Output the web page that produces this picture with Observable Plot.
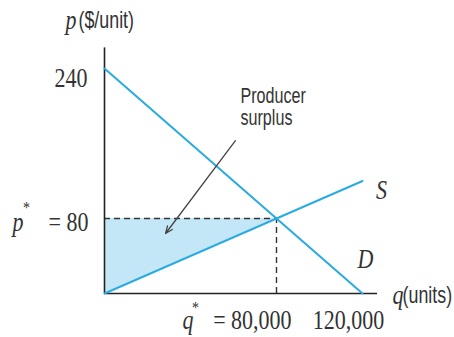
<!DOCTYPE html>
<html>
<head>
<meta charset="utf-8">
<script src="https://cdn.jsdelivr.net/npm/d3@7"></script>
<script src="https://cdn.jsdelivr.net/npm/@observablehq/plot@0.6"></script>
<style>
  html, body { margin: 0; padding: 0; background: #fff; }
</style>
</head>
<body>
<div id="chart"></div>
<script>
// ---- data ----
const quantities = [0, 120000];              // q range of the curves
const supplyPrices = [0, 120];               // S: p = q/1000
const demandPrices = [240, 0];               // D: p = 240 - q/500
const eqQ = 80000, eqP = 80;                 // equilibrium
const surplusQ = [0, 80000];                 // producer-surplus region
const surplusLow = [0, 80];
const axisEnds = {q: 127000, p: 262};
const yTicks = [240];
const xTicks = [120000];
const arrowFrom = {q: 60900, p: 163};
const arrowTo = {q: 28400, p: 64};
const annotationLines = ["Producer", "surplus"];

const blue = "#29abe2";
const ink = "#333";
const serif = "'Liberation Serif', 'Times New Roman', serif";
const sans = "'Liberation Sans', Arial, sans-serif";

const supply = quantities.map((q, i) => ({q, p: supplyPrices[i]}));
const demand = quantities.map((q, i) => ({q, p: demandPrices[i]}));
const surplus = surplusQ.map((q, i) => ({q, lo: surplusLow[i], hi: eqP}));

const S = (o) => ({fontFamily: serif, fontSize: 22, fill: ink, ...o});
const N = (o) => ({fontFamily: sans, fontSize: 21, fill: ink, ...o});

const plot = Plot.plot({
  width: 454,
  height: 337,
  marginLeft: 104,
  marginRight: 92,
  marginTop: 68,
  marginBottom: 44,
  x: {domain: [0, 120000], axis: null},
  y: {domain: [0, 240], axis: null},
  style: {background: "#fff"},
  marks: [
    Plot.areaY(surplus, {x: "q", y1: "lo", y2: "hi", fill: "#c4e7f8"}),
    // dashed equilibrium guides
    Plot.ruleY([eqP], {x1: 0, x2: eqQ, stroke: ink, strokeWidth: 1.4, strokeDasharray: "6,4"}),
    Plot.ruleX([eqQ], {y1: 0, y2: eqP, stroke: ink, strokeWidth: 1.4, strokeDasharray: "6,4"}),
    // axes
    Plot.ruleY([0], {x1: 0, x2: axisEnds.q, stroke: "#222", strokeWidth: 1.6}),
    Plot.ruleX([0], {y1: 0, y2: axisEnds.p, stroke: "#222", strokeWidth: 1.6}),
    // curves
    Plot.line(supply, {x: "q", y: "p", stroke: blue, strokeWidth: 2}),
    Plot.line(demand, {x: "q", y: "p", stroke: blue, strokeWidth: 2}),
    // annotation arrow
    Plot.arrow([{x1: arrowFrom.q, y1: arrowFrom.p, x2: arrowTo.q, y2: arrowTo.p}],
      {x1: "x1", y1: "y1", x2: "x2", y2: "y2", stroke: "#444", strokeWidth: 1.3, headLength: 9, headAngle: 45}),
    Plot.text([annotationLines.join("\n")], N({x: arrowFrom.q, y: arrowFrom.p, text: d => d, textAnchor: "start",
      lineAnchor: "middle", lineHeight: 1.06, dx: 5, dy: -34, fontSize: 19})),
    // y tick labels
    Plot.text(yTicks, S({x: 0, y: d => d, text: d => String(d), textAnchor: "end", dx: -17, dy: 10})),
    Plot.text([eqP], S({x: 0, y: d => d, text: d => "= " + d, textAnchor: "end", dx: -16, dy: 4})),
    Plot.text([eqP], S({x: 0, y: d => d, text: () => "p", textAnchor: "end", dx: -81, dy: 4, fontStyle: "italic"})),
    Plot.text([eqP], S({x: 0, y: d => d, text: () => "*", textAnchor: "middle", dx: -78, dy: -11, fontSize: 14})),
    // x tick labels
    Plot.text([eqQ], S({x: d => d, y: 0, text: d => "= " + d3.format(",")(d), textAnchor: "end", dx: 15, dy: 27})),
    Plot.text([eqQ], S({x: d => d, y: 0, text: () => "q", textAnchor: "start", dx: -94, dy: 27, fontStyle: "italic"})),
    Plot.text([eqQ], S({x: d => d, y: 0, text: () => "*", textAnchor: "middle", dx: -81, dy: 14, fontSize: 14})),
    Plot.text(xTicks, S({x: d => d, y: 0, text: d => d3.format(",")(d), textAnchor: "middle", dx: -14, dy: 27})),
    // axis titles
    Plot.text([axisEnds.q], S({x: d => d, y: 0, text: () => "q", textAnchor: "start", dx: 15, dy: 2, fontStyle: "italic"})),
    Plot.text([axisEnds.q], N({x: d => d, y: 0, text: () => "(units)", textAnchor: "start", dx: 25, dy: 2})),
    Plot.text([axisEnds.p], S({x: 0, y: d => d, text: () => "p", textAnchor: "start", dx: -39, dy: -27, fontStyle: "italic"})),
    Plot.text([axisEnds.p], N({x: 0, y: d => d, text: () => "($/unit)", textAnchor: "start", dx: -26, dy: -27})),
    // curve labels
    Plot.text([supply[1]], S({x: "q", y: "p", text: () => "S", textAnchor: "middle", dx: 19, dy: 10, fontStyle: "italic"})),
    Plot.text([demand[1]], S({x: "q", y: "p", text: () => "D", textAnchor: "middle", dx: 3, dy: -34, fontStyle: "italic"}))
  ]
});

// the reference's lettering is tall and condensed: stretch serif text vertically, squeeze sans text
plot.querySelectorAll("text").forEach(t => {
  const g = t.closest("g[font-family]");
  const fam = (g && g.getAttribute("font-family")) || "";
  const tr = t.getAttribute("transform") || "";
  if (fam.includes("Serif")) t.setAttribute("transform", tr + " scale(1,1.2)");
  else if (fam.includes("Sans")) t.setAttribute("transform", tr + " scale(0.85,1.12)");
});
document.getElementById("chart").appendChild(plot);
</script>
</body>
</html>
